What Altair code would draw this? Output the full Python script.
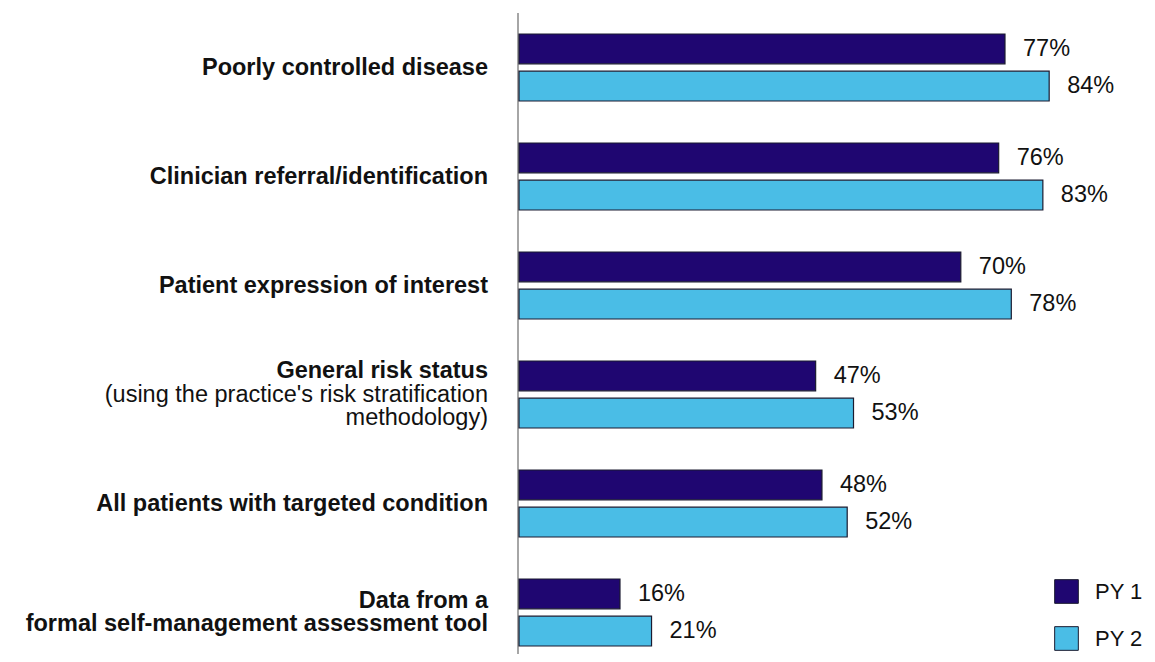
import altair as alt
import pandas as pd

categories = [
    "Poorly controlled disease",
    "Clinician referral/identification",
    "Patient expression of interest",
    "General risk status",
    "All patients with targeted condition",
    "Data from a formal self-management assessment tool",
]
series_names = ["PY 1", "PY 2"]
py1_values = [77, 76, 70, 47, 48, 16]
py2_values = [84, 83, 78, 53, 52, 21]

# label lines: (category, text, weight, line position)
label_lines = [
    (categories[0], "Poorly controlled disease", "bold", 0),
    (categories[1], "Clinician referral/identification", "bold", 0),
    (categories[2], "Patient expression of interest", "bold", 0),
    (categories[3], "General risk status", "bold", -1),
    (categories[3], "(using the practice's risk stratification", "normal", 0),
    (categories[3], "methodology)", "normal", 1),
    (categories[4], "All patients with targeted condition", "bold", 0),
    (categories[5], "Data from a", "bold", -0.5),
    (categories[5], "formal self-management assessment tool", "bold", 0.5),
]

colors = ["#1F0671", "#4ABDE6"]
FONT = "Liberation Sans"
FS = 23.5
LINE_H = 23.5

rows = []
for c, a, b in zip(categories, py1_values, py2_values):
    rows.append({"category": c, "series": series_names[0], "value": a})
    rows.append({"category": c, "series": series_names[1], "value": b})
df = pd.DataFrame(rows)
df["label"] = df["value"].astype(str) + "%"

lab = pd.DataFrame(label_lines, columns=["category", "text", "weight", "pos"])

y_enc = alt.Y("category:N", sort=categories, axis=None,
              scale=alt.Scale(paddingInner=0.385, paddingOuter=0.1925, range=[0, 654]))
yoff = alt.YOffset("series:N", sort=series_names,
                   scale=alt.Scale(paddingInner=0.2, paddingOuter=0))
x_enc = alt.X("value:Q", scale=alt.Scale(domain=[0, 99.5]), axis=None)

base = alt.Chart(df)

bars = base.mark_bar(stroke="#1b1b30", strokeWidth=1.2).encode(
    x=x_enc,
    y=y_enc,
    yOffset=yoff,
    color=alt.Color(
        "series:N",
        sort=series_names,
        scale=alt.Scale(domain=series_names, range=colors),
        legend=alt.Legend(
            title=None,
            orient="none",
            direction="vertical",
            legendX=535,
            legendY=566,
            symbolType="square",
            symbolSize=560,
            symbolStrokeColor="#1b1b30",
            symbolStrokeWidth=1,
            symbolOpacity=1,
            labelFontSize=22,
            labelFont=FONT,
            labelColor="#111111",
            labelOffset=16,
            rowPadding=18,
            padding=0,
        ),
    ),
)

values = base.mark_text(align="left", baseline="middle", dx=18,
                        fontSize=FS, font=FONT, color="#111111").encode(
    x=x_enc,
    y=y_enc,
    yOffset=yoff,
    text="label:N",
)

axis_line = alt.Chart(df).mark_rule(color="#a6a6a6", strokeWidth=2).encode(
    x=alt.value(-1), y=alt.value(0), y2=alt.value(660)
)

layers = [axis_line, bars, values]
for (w, p), _ in lab.groupby(["weight", "pos"]):
    sub = lab[(lab["weight"] == w) & (lab["pos"] == p)]
    layers.append(
        alt.Chart(sub).mark_text(
            align="right", baseline="middle", dy=p * LINE_H,
            fontSize=FS, font=FONT, fontWeight=w, color="#111111"
        ).encode(
            x=alt.value(-31),
            y=y_enc,
            text="text:N",
        )
    )

chart = alt.layer(*layers).properties(
    width=628,
    height=641,
    autosize="none",
    padding={"left": 511, "top": 5, "right": 0, "bottom": 0},
).configure_view(stroke=None)

chart.save("out.html", embed_options={"renderer": "svg", "actions": False})
